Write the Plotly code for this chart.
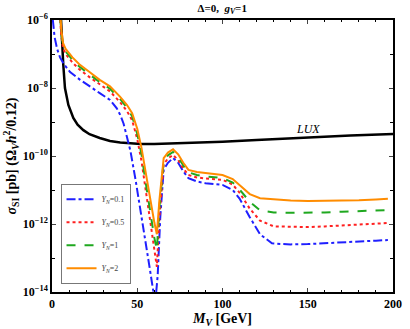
import plotly.graph_objects as go

# M_V [GeV] and log10(sigma_SI)
x_lux = [5.3, 6, 6.6, 7.6, 9.6, 12.5, 15, 18.4, 22, 28, 34, 40, 46, 52, 60, 80, 100, 120, 150, 175, 200]
y_lux = [-6, -6.8, -7.3, -8.0, -8.5, -8.88, -9.08, -9.24, -9.36, -9.47, -9.56, -9.6, -9.63, -9.65, -9.65,
         -9.62, -9.58, -9.53, -9.45, -9.40, -9.35]

x_c = [4.8, 5.5, 6.5, 8, 12, 16, 22, 28, 34, 40, 44, 47, 50, 52.5, 55, 58, 60, 61.5, 63, 65.5, 68, 71, 74, 77,
       80, 85, 90, 100, 106, 110, 116, 122, 130, 140, 150, 160, 170, 180, 190, 197]
y_2 = [-5.8, -6.3, -6.68, -6.85, -7.1, -7.3, -7.53, -7.76, -7.95, -8.26, -8.5, -8.74, -9.2, -9.76, -10.5, -11.4,
       -11.95, -12.3, -11.3, -10.06, -9.9, -9.8, -9.95, -10.2, -10.41, -10.47, -10.5, -10.56, -10.68, -10.85,
       -11.12, -11.24, -11.28, -11.31, -11.32, -11.32, -11.31, -11.3, -11.28, -11.26]
y_1 = [-5.9, -6.4, -6.75, -6.92, -7.17, -7.37, -7.6, -7.83, -8.02, -8.33, -8.58, -8.83, -9.35, -9.95, -10.8,
       -11.8, -12.4, -12.76, -11.5, -10.15, -9.98, -9.88, -10.03, -10.28, -10.48, -10.56, -10.6, -10.65, -10.78,
       -10.98, -11.35, -11.6, -11.66, -11.67, -11.67, -11.66, -11.64, -11.62, -11.6, -11.59]
y_05 = [-6.0, -6.5, -6.82, -7.0, -7.25, -7.45, -7.68, -7.9, -8.1, -8.42, -8.68, -8.95, -9.5, -10.15, -11.05,
        -12.1, -12.8, -13.26, -11.8, -10.25, -10.07, -9.97, -10.12, -10.37, -10.56, -10.63, -10.66, -10.7,
        -10.84, -11.08, -11.55, -11.9, -12.07, -12.09, -12.09, -12.07, -12.05, -12.02, -11.99, -11.97]

x_b = [0.5, 1.5, 3, 4.7, 7, 10.6, 16.5, 22.4, 28, 34, 38, 40, 42, 44, 46, 49, 52, 54.7, 57, 59, 60.6, 62, 63.5,
       65.5, 68, 71, 74, 77, 80, 85, 90, 100, 106, 110, 116, 122, 129, 135, 140, 150, 160, 170, 180, 190, 197]
y_01 = [-6, -6.5, -6.85, -7.1, -7.3, -7.53, -7.76, -7.97, -8.15, -8.35, -8.6, -8.79, -9.05, -9.45, -9.85, -10.7,
        -11.6, -12.47, -13.2, -13.85, -14.3, -13.5, -11.8, -10.4, -10.2, -10.06, -10.2, -10.45, -10.65, -10.75,
        -10.8, -10.85, -11.0, -11.25, -11.8, -12.3, -12.57, -12.59, -12.6, -12.59, -12.57, -12.55, -12.52,
        -12.49, -12.47]

series = [
    ("0.1", x_b, y_01, "#1f1fff", "dashdot"),
    ("0.5", x_c, y_05, "#ff2020", "dot"),
    ("1", x_c, y_1, "#1fa81f", "dash"),
    ("2", x_c, y_2, "#ff8c00", "solid"),
]

font = "Liberation Serif, Times New Roman, serif"
fig = go.Figure()

fig.add_trace(go.Scatter(x=x_lux, y=[10 ** v for v in y_lux], mode="lines",
                         line=dict(color="black", width=2.5), showlegend=False))

for i, (lab, xs, ys, col, dash) in enumerate(series):
    fig.add_trace(go.Scatter(x=xs, y=[10 ** v for v in ys], mode="lines",
                             name="<i>Y</i><sub><i>N</i></sub>=" + lab, legendgroup=str(i),
                             line=dict(color=col, width=2, dash=dash)))

fig.add_annotation(x=150, y=-9.2, yref="y", text="<i>LUX</i>", showarrow=False,
                   font=dict(family=font, size=12, color="black"))

ytick_v = [1e-6, 1e-8, 1e-10, 1e-12, 1e-14]
ytick_t = ["<b>10<sup>−6</sup></b>", "<b>10<sup>−8</sup></b>", "<b>10<sup>−10</sup></b>",
           "<b>10<sup>−12</sup></b>", "<b>10<sup>−14</sup></b>"]

fig.update_layout(
    width=410, height=329,
    margin=dict(l=52, r=17, t=20, b=37),
    paper_bgcolor="white", plot_bgcolor="white",
    font=dict(family=font, color="black", size=12),
    title=dict(text="<b>Δ=0,  <i>g</i><sub><i>V</i></sub>=1</b>", x=0.542, xanchor="center",
               y=0.975, yanchor="middle", font=dict(size=11)),
    legend=dict(x=0.025, y=0.398, xanchor="left", yanchor="top", bordercolor="#777777",
                borderwidth=1, bgcolor="white", font=dict(size=8, color="#444444"),
                tracegroupgap=4, itemwidth=30),
    xaxis=dict(range=[0, 200], tickvals=[0, 50, 100, 150, 200], automargin=False,
               ticktext=["<b>0</b>", "<b>50</b>", "<b>100</b>", "<b>150</b>", "<b>200</b>"],
               ticks="inside", ticklen=4, showline=True, linecolor="black", linewidth=1.5,
               mirror="allticks", showgrid=False, zeroline=False, tickfont=dict(size=12),
               minor=dict(dtick=10, ticks="inside", ticklen=2, tickcolor="black"),
               title=dict(text="<b><i>M</i><sub><i>V</i></sub> [GeV]</b>", font=dict(size=14), standoff=2)),
    yaxis=dict(type="log", range=[-14, -6], tickvals=ytick_v, ticktext=ytick_t, automargin=False,
               ticks="inside", ticklen=4, showline=True, linecolor="black", linewidth=1.5,
               mirror="allticks", showgrid=False, zeroline=False, tickfont=dict(size=12),
               minor=dict(tickvals=[1e-7, 1e-9, 1e-11, 1e-13], ticks="inside", ticklen=3,
                          tickcolor="black"),
               title=dict(text="<b><i>σ</i><sub>SI</sub> [pb] (Ω<sub><i>V</i></sub><i>h</i><sup>2</sup>/0.12)</b>",
                          font=dict(size=14), standoff=3)),
)

fig.write_html("out.html", config={"displayModeBar": False},
               post_script="document.body.style.margin='0';")
